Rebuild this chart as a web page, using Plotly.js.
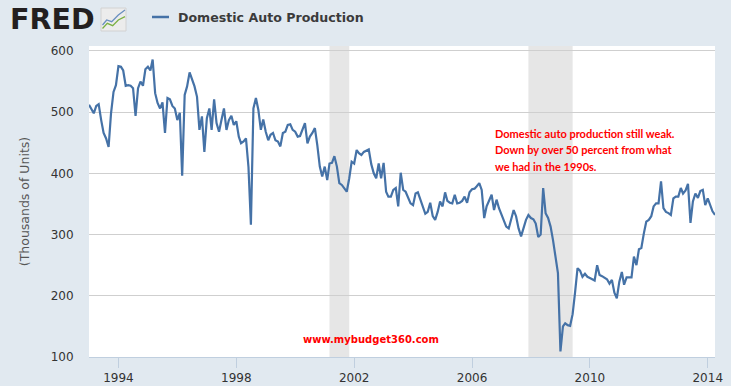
<!DOCTYPE html>
<html>
<head>
<meta charset="utf-8">
<script src="https://cdn.plot.ly/plotly-3.0.1.min.js"></script>
<style>html,body{margin:0;padding:0;background:#e1e9f0;}#chart{width:731px;height:386px;}</style>
</head>
<body>
<div id="chart"></div>
<script>
// Monthly series: Domestic Auto Production (thousands of units), Jan 1993 - Apr 2014
const startYear = 1993;
const startMonth = 1;
const production = [
512,505,498,510,513,487,466,457,443,498,533,544,
575,574,568,543,544,543,539,494,539,550,543,570,
574,568,586,531,515,506,516,466,523,521,510,506,
487,499,396,528,542,565,555,542,525,471,493,435,
490,506,471,521,482,468,487,506,471,487,494,479,
485,460,449,452,457,410,316,506,523,504,471,488,
468,454,463,466,454,452,444,466,468,479,480,471,
468,460,461,471,482,449,460,466,474,446,411,395,
411,389,416,417,428,411,384,381,375,370,392,419,
416,438,433,430,435,437,439,415,400,392,416,392,
417,370,362,362,373,376,346,401,373,370,359,351,
348,367,369,357,347,334,337,352,330,324,337,354,
346,369,355,352,351,365,351,352,355,362,352,369,
374,375,379,384,373,327,346,357,365,340,357,343,
332,324,313,310,324,340,330,310,297,312,324,332,
327,325,318,296,300,376,335,327,313,291,262,237,
109,150,155,152,151,170,205,245,241,231,236,231,
229,227,225,250,234,232,230,227,220,226,205,196,
223,239,218,230,230,230,264,250,276,278,302,321,
324,330,346,351,351,387,343,337,335,332,359,362,
362,376,367,372,383,319,354,367,360,371,373,348,
359,346,338,332
];
const seriesName = 'Domestic Auto Production';
const yTickValues = [100, 200, 300, 400, 500, 600];
const recessionStarts = ['2001-03-01', '2007-12-01'];
const recessionEnds = ['2001-11-01', '2009-06-01'];
const noteLines = [
  'Domestic auto production still weak.',
  'Down by over 50 percent from what',
  'we had in the 1990s.'
];
const sourceText = 'www.mybudget360.com';

const dates = production.map((_, i) => {
  const m0 = (startMonth - 1) + i;
  const y = startYear + Math.floor(m0 / 12);
  const m = (m0 % 12) + 1;
  return y + '-' + String(m).padStart(2, '0') + '-01';
});

const W = 731, H = 386, L = 89, R = 16, T = 46, B = 29;
const PW = W - L - R, PH = H - T - B;
const px = v => (v - L) / PW;
const py = v => (H - B - v) / PH;

const shapes = recessionStarts.map((s, i) => ({
  type: 'rect', xref: 'x', yref: 'paper', x0: s, x1: recessionEnds[i], y0: 0, y1: 1,
  fillcolor: '#e6e6e6', line: {width: 0}, layer: 'below'
}));

// FRED logo icon
shapes.push({type: 'rect', xref: 'paper', yref: 'paper', x0: px(101), x1: px(126), y0: py(31), y1: py(8),
  fillcolor: '#ececec', line: {color: '#d2d2d2', width: 1}});
const pathOf = pts => 'M' + pts.map(p => px(p[0]) + ',' + py(p[1])).join(' L');
shapes.push({type: 'path', xref: 'paper', yref: 'paper',
  path: pathOf([[102.5,25],[106.7,20],[111.7,21.7],[118.3,15],[125,10]]),
  line: {color: '#6a8fc0', width: 1.3}});
shapes.push({type: 'path', xref: 'paper', yref: 'paper',
  path: pathOf([[102.5,28.5],[107.3,23.3],[112.7,25.7],[118.3,20],[125,16.7]]),
  line: {color: '#7bb043', width: 1.3}});
// legend sample line
shapes.push({type: 'line', xref: 'paper', yref: 'paper', x0: px(152), x1: px(169), y0: py(17), y1: py(17),
  line: {color: '#4572a7', width: 2.5}});

const annotations = [
  {xref: 'paper', yref: 'paper', x: px(52), y: py(19.5), xanchor: 'center', yanchor: 'middle',
   text: '<b>FRED</b>', showarrow: false, font: {family: 'DejaVu Sans', size: 28.5, color: '#231f20'}},
  {xref: 'paper', yref: 'paper', x: px(176), y: py(17), xanchor: 'left', yanchor: 'middle',
   text: '<b>' + seriesName + '</b>', showarrow: false, font: {family: 'DejaVu Sans', size: 12.6, color: '#3b3b3b'}},
  {xref: 'paper', yref: 'paper', x: px(370.5), y: py(339), xanchor: 'center', yanchor: 'middle',
   text: '<b>' + sourceText + '</b>', showarrow: false, font: {family: 'DejaVu Sans', size: 10, color: '#ff0000'}}
];
const noteY = [133, 149.5, 166];
noteLines.forEach((t, i) => annotations.push({
  xref: 'paper', yref: 'paper', x: px(493), y: py(noteY[i]), xanchor: 'left', yanchor: 'middle', align: 'left',
  text: '<b>' + t + '</b>', showarrow: false,
  font: {family: 'Lato, sans-serif', size: 11, color: '#ff0000'}
}));

const trace = {
  x: dates, y: production, type: 'scatter', mode: 'lines', name: seriesName,
  line: {color: '#4572a7', width: 2.2}, hoverinfo: 'x+y'
};

const layout = {
  width: W, height: H,
  margin: {l: L, r: R, t: T, b: B, pad: 0},
  paper_bgcolor: '#e1e9f0', plot_bgcolor: '#ffffff',
  showlegend: false,
  font: {family: 'DejaVu Sans', size: 12, color: '#333333'},
  xaxis: {
    type: 'date', range: ['1993-01-01', '2014-04-01'],
    tick0: '1994-01-01', dtick: 'M48', tickformat: '%Y',
    showgrid: false, zeroline: false,
    showline: true, linecolor: '#c0cfdf', linewidth: 1,
    ticks: 'outside', ticklen: 10, tickcolor: '#c0cfdf', tickwidth: 1,
    tickfont: {family: 'DejaVu Sans', size: 12, color: '#333333'}
  },
  yaxis: {
    range: [100, 608], tickvals: yTickValues,
    showgrid: true, gridcolor: '#cfcfcf', gridwidth: 1, zeroline: false, showline: false,
    ticks: 'outside', ticklen: 12, tickcolor: 'rgba(0,0,0,0)',
    tickfont: {family: 'DejaVu Sans', size: 12, color: '#333333'},
    title: {text: '(Thousands of Units)', standoff: 18, font: {family: 'DejaVu Sans', size: 12.5, color: '#555555'}},
    automargin: false
  },
  shapes: shapes,
  annotations: annotations
};

Plotly.newPlot('chart', [trace], layout, {displayModeBar: false, staticPlot: true});
</script>
</body>
</html>
